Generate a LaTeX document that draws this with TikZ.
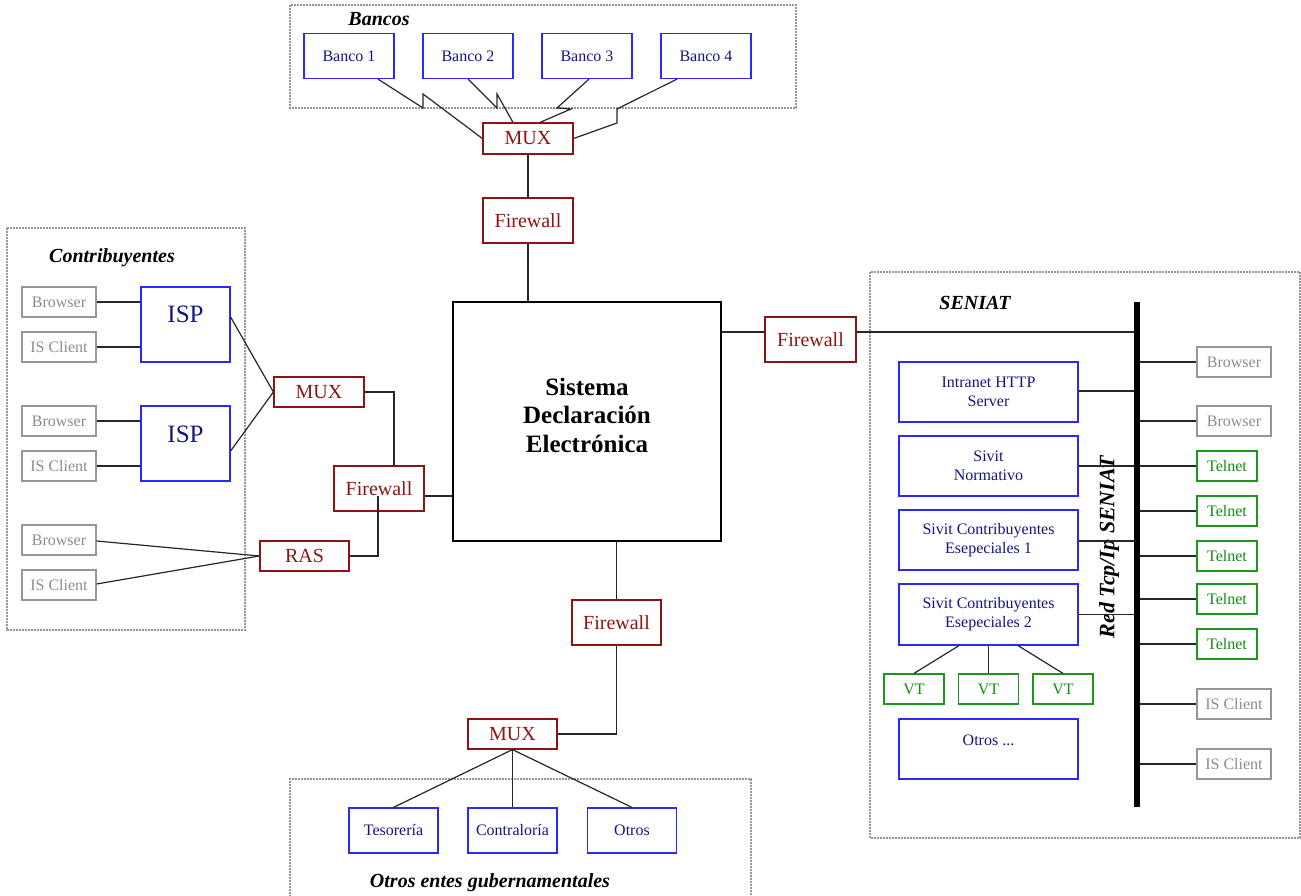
\documentclass[tikz,border=0pt]{standalone}
\usepackage{fontspec}
\setmainfont{Liberation Serif}
\usetikzlibrary{calc}
\definecolor{dred}{RGB}{140,20,20}
\definecolor{bblue}{RGB}{40,40,255}
\definecolor{navy}{RGB}{20,20,130}
\definecolor{gbord}{RGB}{150,150,150}
\definecolor{gtxt}{RGB}{140,140,140}
\definecolor{grbord}{RGB}{30,150,30}
\definecolor{grtxt}{RGB}{20,140,20}
\definecolor{grpline}{RGB}{150,150,150}
\tikzset{
  base/.style={draw, rectangle, inner sep=0pt, line width=1.2pt, align=center},
  bluebox/.style={base, draw=bblue, text=navy, font=\fontsize{16}{19}\selectfont},
  redbox/.style={base, draw=dred, text=dred, font=\fontsize{20}{24}\selectfont, minimum width=90pt},
  graybox/.style={base, draw=gbord, text=gtxt, font=\fontsize{16}{19}\selectfont, minimum width=74pt, minimum height=30pt},
  greenbox/.style={base, draw=grbord, text=grtxt, font=\fontsize{16}{19}\selectfont, minimum width=60pt, minimum height=30pt},
  grp/.style={draw=grpline, line width=1.2pt, dash pattern=on 2pt off 1pt},
  grplabel/.style={font=\fontsize{20}{24}\selectfont\bfseries\itshape, inner sep=0pt},
  conn/.style={draw=black!85, line width=1.2pt},
}
\begin{document}
\begin{tikzpicture}[x=1pt, y=-1pt]
\useasboundingbox (0,0) rectangle (1301,896);
% ---------- groups ----------
\draw[grp] (290,5) rectangle (796,108);
\node[grplabel] (lbBancos) at (379,19) {Bancos};
\draw[grp] (7,228) rectangle (245,630);
\node[grplabel] (lbContr) at (112,258) {Contribuyentes};
\draw[grp] (870,272) rectangle (1300,838);
\node[grplabel] (lbSeniat) at (975,303) {SENIAT};
\draw[grp] (290,897) -- (290,779) -- (751,779) -- (751,897);
\node[grplabel] (lbOtros) at (490,883) {Otros entes gubernamentales};

% ---------- central ----------
\node[base, draw=black, minimum width=268pt, minimum height=239pt] (sde) at (587,421.5) {};
\node[font=\fontsize{25}{28.5}\selectfont\bfseries, align=center, inner sep=0pt] (sdeText) at (587,415) {Sistema\\Declaración\\Electrónica};

% ---------- bancos ----------
\node[bluebox, minimum width=90pt, minimum height=45pt] (b1) at (349,56) {Banco 1};
\node[bluebox, minimum width=90pt, minimum height=45pt] (b2) at (468,56) {Banco 2};
\node[bluebox, minimum width=90pt, minimum height=45pt] (b3) at (587,56) {Banco 3};
\node[bluebox, minimum width=90pt, minimum height=45pt] (b4) at (706,56) {Banco 4};
\node[redbox, minimum height=31pt] (tmux) at (528,138.5) {MUX};
\node[redbox, minimum height=45pt] (tfw) at (528,220.5) {Firewall};
\draw[conn] ($(b1.south)+(29,0)$) -- (423,108) -- (423,94) -- (tmux.west);
\draw[conn] (b2.south) -- (497,108) -- (497,94) -- ($(tmux.north)+(-15,0)$);
\draw[conn] ($(b3.south)+(2,0)$) -- (557,108) -- (571,109) -- ($(tmux.north)+(12,0)$);
\draw[conn] ($(b4.south)+(-29,0)$) -- (617,109) -- (617,123) -- (tmux.east);
\draw[conn] (tmux.south) -- (tfw.north);
\draw[conn] (tfw.south) -- (tfw.south |- sde.north);

% ---------- contribuyentes ----------
\node[graybox] (cbr1) at (59,302) {Browser};
\node[graybox] (cis1) at (59,347) {IS Client};
\node[graybox] (cbr2) at (59,421) {Browser};
\node[graybox] (cis2) at (59,466) {IS Client};
\node[graybox] (cbr3) at (59,540) {Browser};
\node[graybox] (cis3) at (59,585) {IS Client};
\node[base, draw=bblue, minimum width=89pt, minimum height=75pt] (isp1) at (185.5,324.5) {};
\node[text=navy, font=\fontsize{25}{30}\selectfont, inner sep=0pt] (isp1t) at (185.5,314) {ISP};
\node[base, draw=bblue, minimum width=89pt, minimum height=75pt] (isp2) at (185.5,443.5) {};
\node[text=navy, font=\fontsize{25}{30}\selectfont, inner sep=0pt] (isp2t) at (185.5,434) {ISP};
\node[redbox, minimum height=30pt] (lmux) at (319,392) {MUX};
\node[redbox, minimum height=45pt] (lfw) at (379,488.5) {Firewall};
\node[redbox, minimum width=89pt, minimum height=30pt] (ras) at (304.5,556) {RAS};
\coordinate (isp1out) at ($(isp1.east)+(0,-7.5)$);
\coordinate (isp2out) at ($(isp2.east)+(0,7.5)$);
\coordinate (lfwTop) at ($(lfw.north)+(15,0)$);
\coordinate (lfwOut) at ($(lfw.east)+(0,7.5)$);
\coordinate (lfwIn) at ($(lfw.center)+(-1,7.5)$);
\coordinate (cbr3out) at ($(cbr3.east)+(0,1)$);
\coordinate (cis3out) at ($(cis3.east)+(0,-1)$);
\draw[conn] (cbr1.east) -- (cbr1.east -| isp1.west);
\draw[conn] (cis1.east) -- (cis1.east -| isp1.west);
\draw[conn] (cbr2.east) -- (cbr2.east -| isp2.west);
\draw[conn] (cis2.east) -- (cis2.east -| isp2.west);
\draw[conn] (isp1out) -- (lmux.west);
\draw[conn] (isp2out) -- (lmux.west);
\draw[conn] (lmux.east) -| (lfwTop);
\draw[conn] (lfwOut) -- (lfwOut -| sde.west);
\draw[conn] (ras.east) -| (lfwIn);
\draw[conn] (cbr3out) -- (ras.west);
\draw[conn] (cis3out) -- (ras.west);

% ---------- bottom ----------
\node[redbox, minimum width=89pt, minimum height=45pt] (bfw) at (616.5,622.5) {Firewall};
\node[redbox, minimum width=89pt, minimum height=30pt] (bmux) at (512.5,734) {MUX};
\node[bluebox, minimum width=89pt, minimum height=45pt] (teso) at (393.5,830.5) {Tesorería};
\node[bluebox, minimum width=89pt, minimum height=45pt] (contra) at (512.5,830.5) {Contraloría};
\node[bluebox, minimum width=89pt, minimum height=45pt] (otros) at (632,830.5) {Otros};
\draw[conn] (bfw.north |- sde.south) -- (bfw.north);
\draw[conn] (bfw.south) |- (bmux.east);
\draw[conn] (bmux.south) -- (teso.north);
\draw[conn] (bmux.south) -- (contra.north);
\draw[conn] (bmux.south) -- (otros.north);

% ---------- SENIAT ----------
\node[redbox, minimum width=91pt, minimum height=45pt] (rfw) at (810.5,339.5) {Firewall};
\coordinate (busTop) at (1137,302);
\coordinate (busBot) at (1137,807);
\node[bluebox, minimum width=179pt, minimum height=60pt] (intra) at (988.5,392) {Intranet HTTP\\Server};
\node[bluebox, minimum width=179pt, minimum height=60pt] (norm) at (988.5,466) {Sivit\\Normativo};
\node[bluebox, minimum width=179pt, minimum height=60pt] (ce1) at (988.5,540) {Sivit Contribuyentes\\Esepeciales 1};
\node[bluebox, minimum width=179pt, minimum height=61pt] (ce2) at (988.5,614.5) {Sivit Contribuyentes\\Esepeciales 2};
\node[bluebox, minimum width=179pt, minimum height=60pt] (otrosS) at (988.5,749) {};
\node[text=navy, font=\fontsize{16}{19}\selectfont, inner sep=0pt] (otrosSt) at (988.5,740) {Otros ...};
\node[greenbox] (vt1) at (914,689) {VT};
\node[greenbox] (vt2) at (988.5,689) {VT};
\node[greenbox] (vt3) at (1063,689) {VT};
\node[graybox] (rbr1) at (1234,362) {Browser};
\node[graybox] (rbr2) at (1234,421) {Browser};
\node[greenbox] (tel1) at (1227,466) {Telnet};
\node[greenbox] (tel2) at (1227,511) {Telnet};
\node[greenbox] (tel3) at (1227,556) {Telnet};
\node[greenbox] (tel4) at (1227,599) {Telnet};
\node[greenbox] (tel5) at (1227,644) {Telnet};
\node[graybox] (ris1) at (1234,704) {IS Client};
\node[graybox] (ris2) at (1234,764) {IS Client};
\node[font=\fontsize{22}{26}\selectfont\bfseries\itshape, rotate=90, inner sep=0pt] (redLbl) at (1109,547) {Red Tcp/Ip SENIAT};

\coordinate (rfwIn) at ($(rfw.west)+(0,-7.5)$);
\coordinate (rfwOut) at ($(rfw.east)+(0,-7.5)$);
\coordinate (intraOut) at ($(intra.east)+(0,-1)$);
\coordinate (ce1Out) at ($(ce1.east)+(0,1)$);
\draw[conn] (rfwIn -| sde.east) -- (rfwIn);
\draw[conn] (rfwOut) -- (rfwOut -| busTop);
\draw[conn] (intraOut) -- (intraOut -| busTop);
\draw[conn] (norm.east) -- (tel1.west);
\draw[conn] (ce1Out) -- (ce1Out -| busTop);
\draw[conn] (ce2.east) -- (ce2.east -| busTop);
\foreach \n in {rbr1,rbr2,tel2,tel3,tel4,tel5,ris1,ris2}{
  \draw[conn] (\n.west -| busTop) -- (\n.west);
}
\coordinate (ce2a) at ($(ce2.south)+(-29.5,0)$);
\coordinate (ce2b) at ($(ce2.south)+(29.5,0)$);
\draw[conn] (ce2a) -- (vt1.north);
\draw[conn] (ce2.south) -- (vt2.north);
\draw[conn] (ce2b) -- (vt3.north);
\draw[line width=6pt] (busTop) -- (busBot);
\end{tikzpicture}
\end{document}
